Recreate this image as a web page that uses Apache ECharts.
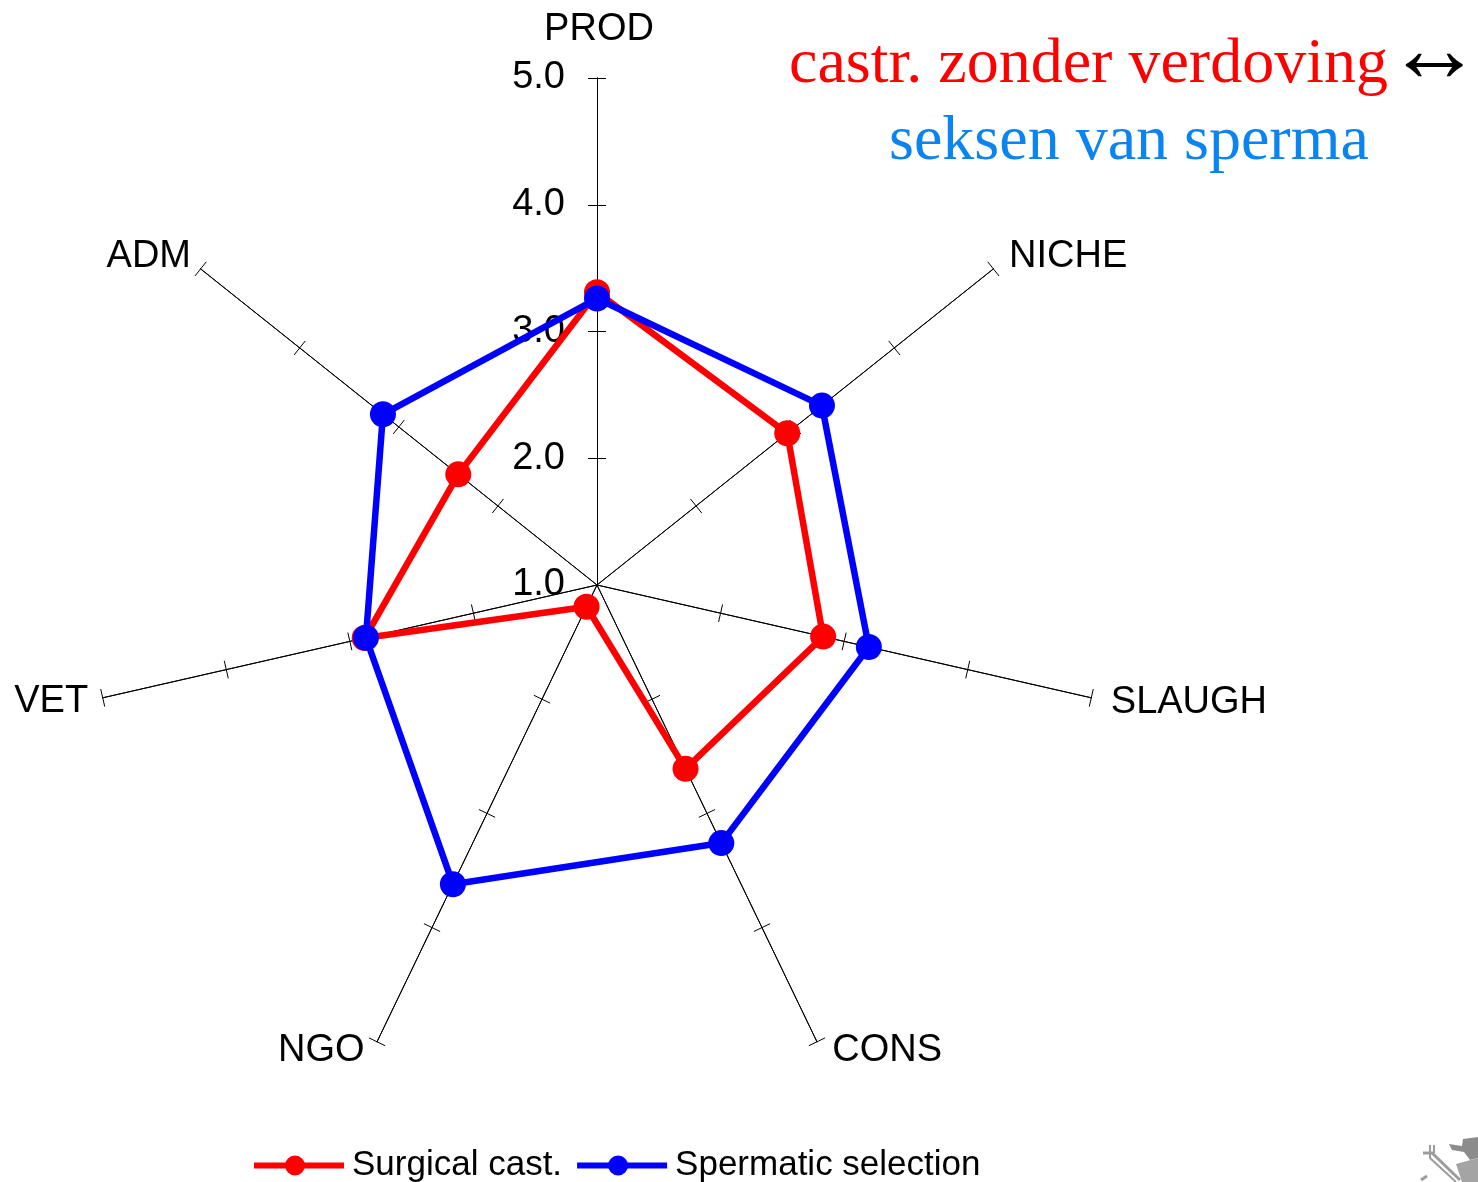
<!DOCTYPE html>
<html>
<head>
<meta charset="utf-8">
<style>html,body{margin:0;padding:0;background:#fff}#c{width:1478px;height:1182px}</style>
<script src="https://cdn.jsdelivr.net/npm/echarts@6/dist/echarts.min.js"></script>
</head>
<body>
<div id="c"></div>
<script>
// Listed counter-clockwise from the top, because that is how the radar lays them out
const axisNames = ['PROD', 'ADM', 'VET', 'NGO', 'CONS', 'SLAUGH', 'NICHE'];
const surgical = [3.31, 2.40, 2.88, 1.19, 2.61, 2.83, 2.92];
const spermatic = [3.26, 3.16, 2.87, 3.62, 3.26, 3.20, 3.27];
const seriesNames = ['Surgical cast.', 'Spermatic selection'];
const tickValues = [2, 3, 4, 5];
const axisMin = 1, axisMax = 5;
const titleLines = ['castr. zonder verdoving', 'seksen van sperma'];

const sans = '"Liberation Sans", Arial, sans-serif';
const serif = '"Liberation Serif", "Times New Roman", serif';
const center = [597, 585];
const radius = 507;

// Per-axis fine placement of the axis names
const nameGaps = [29, 20, 15, 10, 10, 20, 20];
const namePads = [[0,0,0,4], [0,-6,0,0], [0,0,0,0], [0,8,0,0], [0,0,0,11], [0,0,0,0], [0,0,0,0]];

function indicators(main) {
  return axisNames.map((n, i) => ({
    name: n, min: axisMin, max: axisMax,
    nameGap: nameGaps[i],
    nameTextStyle: { padding: namePads[i] },
    axisLabel: {
      show: main && i === 0,
      formatter: v => v.toFixed(1)
    }
  }));
}

function radarCoord(tickLen, main) {
  return {
    center: center, radius: radius, startAngle: 90, splitNumber: 4, shape: 'polygon',
    indicator: indicators(main),
    axisName: { show: main, color: '#000', fontSize: 38, fontFamily: sans },
    axisLine: { show: true, lineStyle: { color: '#000', width: 1 } },
    axisTick: { show: true, length: tickLen, customValues: tickValues, lineStyle: { color: '#000', width: 1 } },
    axisLabel: { show: false, color: '#000', fontSize: 38, fontFamily: sans, margin: 32 },
    splitLine: { show: false },
    splitArea: { show: false }
  };
}

function radarSeries(name, values, color) {
  return {
    type: 'radar', radarIndex: 0, name: name,
    symbol: 'circle', symbolSize: 26,
    lineStyle: { color: color, width: 6.5 },
    itemStyle: { color: color },
    data: [{ value: values, name: name }]
  };
}

const legendIcon = 'path://M0 7H90V13H0Z M31 10a10 10 0 1 1 20 0a10 10 0 1 1 -20 0Z';
const logoGray = '#9c9c9c';
const chart = echarts.init(document.getElementById('c'), null, { renderer: 'canvas' });
chart.setOption({
  animation: false,
  backgroundColor: '#fff',
  radar: [radarCoord(9, true), radarCoord(-9, false)],
  legend: {
    left: 249, top: 1143, orient: 'horizontal', icon: legendIcon,
    itemWidth: 90, itemHeight: 20, itemGap: 15,
    textStyle: { color: '#000', fontSize: 35, fontFamily: sans, padding: [0, 0, 0, 3] },
    data: seriesNames
  },
  graphic: [
    { type: 'text', left: 789, top: 33, style: { text: titleLines[0], fill: '#ff0000', font: '64px ' + serif } },
    { type: 'text', left: 1386, top: 8, style: { text: '\u2194', fill: '#000', font: '96px ' + serif } },
    { type: 'text', left: 889, top: 110, style: { text: titleLines[1], fill: '#0a84f0', font: '64px ' + serif } },
    // Cropped crest fragment in the bottom-right corner
    { type: 'polyline', shape: { points: [[1423,1153],[1432,1153],[1460,1180]] }, style: { stroke: logoGray, lineWidth: 3, fill: null } },
    { type: 'polyline', shape: { points: [[1430,1145],[1430,1158],[1456,1182]] }, style: { stroke: logoGray, lineWidth: 2, fill: null } },
    { type: 'polyline', shape: { points: [[1434,1145],[1434,1153]] }, style: { stroke: logoGray, lineWidth: 2, fill: null } },
    { type: 'polygon', shape: { points: [[1449,1144],[1462,1146],[1463,1139],[1478,1137],[1478,1158],[1470,1160],[1464,1152],[1452,1150]] }, style: { fill: '#8c8c8c' } },
    { type: 'polygon', shape: { points: [[1456,1164],[1478,1158],[1478,1182],[1462,1182]] }, style: { fill: '#a4a4a4' } },
    { type: 'polyline', shape: { points: [[1421,1180],[1427,1176]] }, style: { stroke: logoGray, lineWidth: 3, fill: null } }
  ],
  series: [
    radarSeries(seriesNames[0], surgical, '#ff0000'),
    radarSeries(seriesNames[1], spermatic, '#0000ff')
  ]
});
</script>
</body>
</html>
